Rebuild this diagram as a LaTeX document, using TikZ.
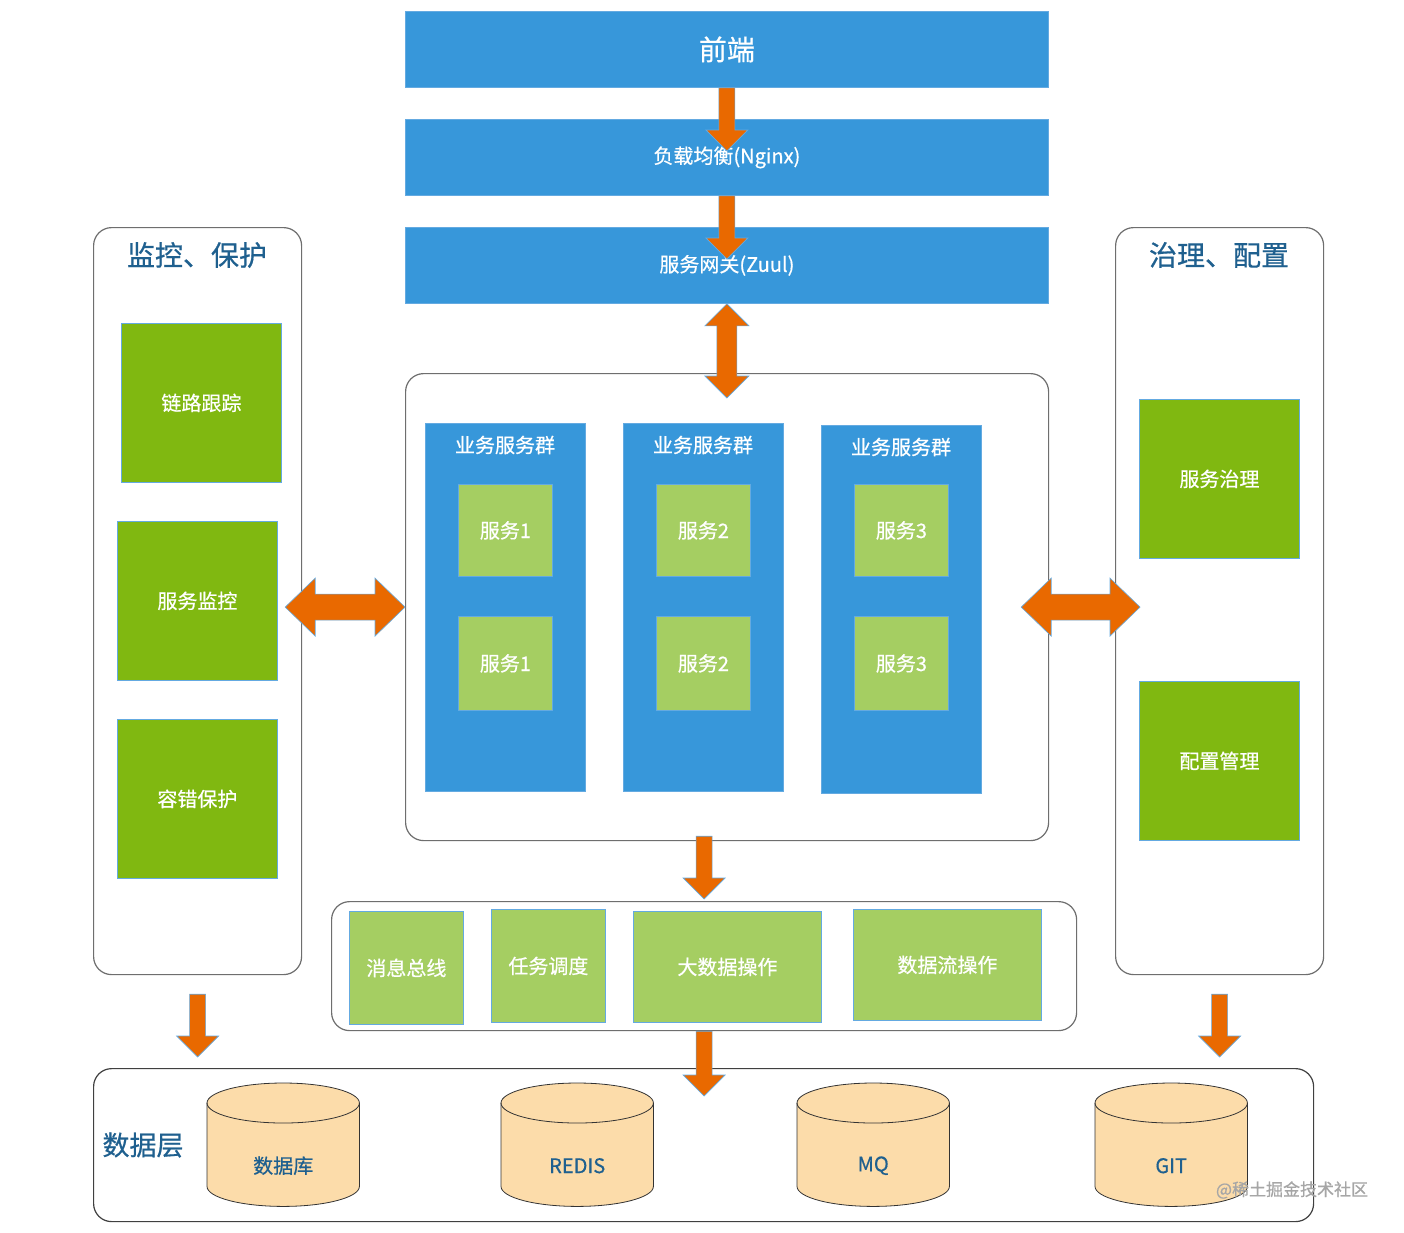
\documentclass[tikz,border=0pt]{standalone}
\usepackage{fontspec}
\setmainfont{Noto Sans CJK SC}[FakeBold=0.6]
\usetikzlibrary{calc}
\definecolor{cblue}{RGB}{55,151,218}
\definecolor{cborder}{RGB}{100,170,225}
\definecolor{cdgreen}{RGB}{128,184,17}
\definecolor{clgreen}{RGB}{165,206,98}
\definecolor{corange}{RGB}{233,105,0}
\definecolor{cpeach}{RGB}{252,220,170}
\definecolor{ctitle}{RGB}{31,96,143}
\definecolor{cframe}{RGB}{110,110,110}
\newcommand\fsz[1]{\fontsize{#1pt}{#1pt}\selectfont}
\newcommand\arrdown[2]{%
 \path[blockarrow] let \p1=(#1), \p2=(#2) in
  (\x1-8pt,\y1) -- (\x1-8pt,\y2+21pt) -- (\x1-21pt,\y2+21pt) -- (\x1,\y2) -- (\x1+21pt,\y2+21pt) -- (\x1+8pt,\y2+21pt) -- (\x1+8pt,\y1) -- cycle;}
\newcommand\arrvdouble[2]{%
 \path[blockarrow] let \p1=(#1), \p2=(#2) in
  (\x1,\y1) -- (\x1+22pt,\y1-22pt) -- (\x1+10pt,\y1-22pt) -- (\x1+10pt,\y2+22pt) -- (\x1+22pt,\y2+22pt) -- (\x1,\y2) -- (\x1-22pt,\y2+22pt) -- (\x1-10pt,\y2+22pt) -- (\x1-10pt,\y1-22pt) -- (\x1-22pt,\y1-22pt) -- cycle;}
\newcommand\arrhdouble[2]{%
 \path[blockarrow] let \p1=(#1), \p2=(#2) in
  (\x1,\y1) -- (\x1+30pt,\y1+29pt) -- (\x1+30pt,\y1+13pt) -- (\x2-30pt,\y1+13pt) -- (\x2-30pt,\y1+29pt) -- (\x2,\y1) -- (\x2-30pt,\y1-29pt) -- (\x2-30pt,\y1-13pt) -- (\x1+30pt,\y1-13pt) -- (\x1+30pt,\y1-29pt) -- cycle;}
\newcommand\cylshape[1]{%
 \path[cylfill] let \p1=(#1.north west), \p2=(#1.south east), \n1={(\x2-\x1)/2} in
  (\x1,\y1-20pt) -- (\x1,\y2+20pt) arc[start angle=180,end angle=360,x radius=\n1,y radius=20pt] -- (\x2,\y1-20pt) arc[start angle=0,end angle=180,x radius=\n1,y radius=20pt] -- cycle;
 \draw[cylline] let \p1=(#1.north west), \p2=(#1.south east), \n1={(\x2-\x1)/2} in
  (\x1,\y1-20pt) arc[start angle=180,end angle=360,x radius=\n1,y radius=20pt];}
\tikzset{
 box/.style={anchor=north west, inner sep=0pt, draw=cborder, line width=0.8pt, text=white, align=center},
 bluebar/.style={box, fill=cblue, font=\fsz{20}},
 bluecol/.style={box, fill=cblue},
 dgbox/.style={box, fill=cdgreen, minimum width=160, minimum height=159, font=\fsz{20}},
 lgbox/.style={box, fill=clgreen, font=\fsz{20}},
 frame/.style={anchor=north west, inner sep=0pt, draw=cframe, line width=1.2pt, fill=white, rounded corners=18pt},
 coltitle/.style={text=white, font=\fsz{20}, inner sep=0pt},
 bigtitle/.style={text=ctitle, font=\fsz{28}, inner sep=0pt},
 blockarrow/.style={fill=corange, draw=cborder, line width=0.6pt},
 cylbox/.style={anchor=north west, inner sep=0pt, minimum width=152, minimum height=123},
 cylfill/.style={fill=cpeach, draw=black!80, line width=0.8pt},
 cylline/.style={draw=black!80, line width=0.8pt},
 cyltext/.style={text=ctitle, font=\fsz{20}, inner sep=0pt},
}
\begin{document}
\begin{tikzpicture}[x=1pt,y=-1pt]
\useasboundingbox[fill=white] (0,0) rectangle (1404,1232);
% containers
\node[frame, minimum width=643, minimum height=467] (cbox) at (405,373) {};
\node[frame, minimum width=208, minimum height=747] (mon) at (93,227) {};
\node[frame, minimum width=208, minimum height=747] (gov) at (1115,227) {};
\node[frame, minimum width=745, minimum height=129] (mid) at (331,901) {};
\node[frame, minimum width=1220, minimum height=153, draw=black!75] (dl) at (93,1068) {};
% top bars
\node[bluebar, minimum width=643, minimum height=76, font=\fsz{28}] (fe) at (405,11) {前端};
\node[bluebar, minimum width=643, minimum height=76] (lb) at (405,119) {负载均衡(Nginx)};
\node[bluebar, minimum width=643, minimum height=76] (gw) at (405,227) {服务网关(Zuul)};
% service columns
\node[bluecol, minimum width=160, minimum height=368] (col1) at (425,423) {};
\node[bluecol, minimum width=160, minimum height=368] (col2) at (623,423) {};
\node[bluecol, minimum width=160, minimum height=368] (col3) at (821,425) {};
\node[coltitle] (t1) at (505,445) {业务服务群};
\node[coltitle] (t2) at (703,445) {业务服务群};
\node[coltitle] (t3) at (901,447) {业务服务群};
\node[lgbox, minimum width=94, minimum height=92] (s11) at (458,484) {服务1};
\node[lgbox, minimum width=94, minimum height=94] (s12) at (458,616) {服务1};
\node[lgbox, minimum width=94, minimum height=92] (s21) at (656,484) {服务2};
\node[lgbox, minimum width=94, minimum height=94] (s22) at (656,616) {服务2};
\node[lgbox, minimum width=94, minimum height=92] (s31) at (854,484) {服务3};
\node[lgbox, minimum width=94, minimum height=94] (s32) at (854,616) {服务3};
% left monitoring
\node[bigtitle] (mont) at (197,255) {监控、保护};
\node[dgbox] (g1) at (121,323) {链路跟踪};
\node[dgbox] (g2) at (117,521) {服务监控};
\node[dgbox] (g3) at (117,719) {容错保护};
% right governance
\node[bigtitle] (govt) at (1219,255) {治理、配置};
\node[dgbox] (g4) at (1139,399) {服务治理};
\node[dgbox] (g5) at (1139,681) {配置管理};
% middle row
\node[lgbox, minimum width=114, minimum height=113] (m1) at (349,911) {消息总线};
\node[lgbox, minimum width=114, minimum height=113] (m2) at (491,909) {任务调度};
\node[lgbox, minimum width=188, minimum height=111] (m3) at (633,911) {大数据操作};
\node[lgbox, minimum width=188, minimum height=111] (m4) at (853,909) {数据流操作};
% data layer
\node[bigtitle, font=\fsz{27}] (dlt) at (143,1145) {数据层};
\node[cylbox] (c1) at (207,1083) {};
\node[cylbox] (c2) at (501,1083) {};
\node[cylbox] (c3) at (797,1083) {};
\node[cylbox] (c4) at (1095,1083) {};
\cylshape{c1}\cylshape{c2}\cylshape{c3}\cylshape{c4}
\node[cyltext] (c1t) at ($(c1.center)+(0,21)$) {数据库};
\node[cyltext] (c2t) at ($(c2.center)+(0,21)$) {REDIS};
\node[cyltext] (c3t) at ($(c3.center)+(0,21)$) {MQ};
\node[cyltext] (c4t) at ($(c4.center)+(0,21)$) {GIT};
\node[text=black!35, font=\fsz{17}, inner sep=0pt] (wm) at (1292,1190) {@稀土掘金技术社区};
% arrows
\arrdown{fe.south}{$(lb.north)+(0,32)$}
\arrdown{lb.south}{$(gw.north)+(0,32)$}
\arrvdouble{gw.south}{$(cbox.north)+(0,25)$}
\arrhdouble{$(mon.east|-cbox.west)+(-17,0)$}{cbox.west}
\arrhdouble{$(cbox.east)+(-28,0)$}{$(gov.west|-cbox.east)+(25,0)$}
\arrdown{$(mid.north|-cbox.south)+(0,-5)$}{$(mid.north)+(0,-2)$}
\arrdown{mid.south}{$(mid.south|-dl.north)+(0,28)$}
\arrdown{$(mon.south)+(0,19)$}{$(mon.south|-dl.north)+(0,-11)$}
\arrdown{$(gov.south)+(0,19)$}{$(gov.south|-dl.north)+(0,-11)$}
\end{tikzpicture}
\end{document}
